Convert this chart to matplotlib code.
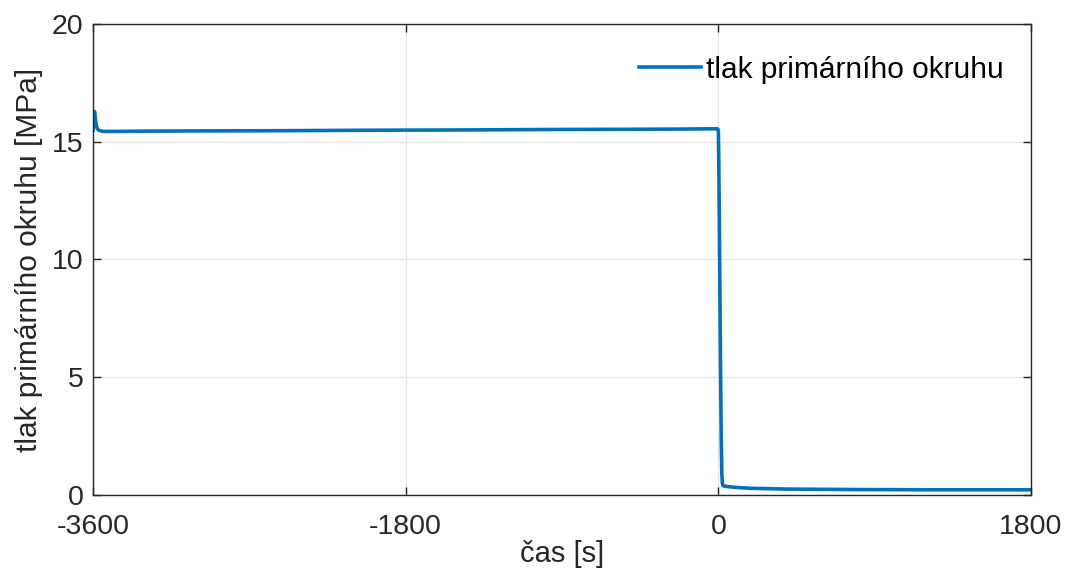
import matplotlib
matplotlib.use("Agg")
import matplotlib.pyplot as plt

# Primary circuit pressure over time (s relative to event), MPa
time_s = [-3600, -3597, -3594, -3591, -3588, -3584, -3578, -3570, -3555, -3540, -3500,
          -3300, -3000, -2500, -2000, -1500, -1000, -500, -200, -50, -5,
          0, 2, 5, 9, 13, 17, 20, 23, 26, 30,
          50, 100, 200, 400, 800, 1200, 1800]
pressure_mpa = [15.5, 15.8, 16.1, 16.28, 16.1, 15.8, 15.6, 15.5, 15.46, 15.44, 15.44,
                15.45, 15.46, 15.47, 15.49, 15.50, 15.52, 15.53, 15.54, 15.55, 15.55,
                15.50, 14.5, 12.0, 8.5, 5.0, 2.2, 0.9, 0.50, 0.40, 0.38,
                0.36, 0.32, 0.28, 0.25, 0.23, 0.22, 0.22]

x_ticks = [-3600, -1800, 0, 1800]
y_ticks = [0, 5, 10, 15, 20]
series_label = "tlak primárního okruhu"
x_label = "čas [s]"
y_label = "tlak primárního okruhu [MPa]"

text_color = "#262626"
plt.rcParams["font.family"] = ["Liberation Sans", "DejaVu Sans"]

fig = plt.figure(figsize=(10.74, 5.83), dpi=100)
ax = fig.add_axes([0.0866, 0.151, 0.8734, 0.8078])

ax.plot(time_s, pressure_mpa, color="#0072BD", linewidth=2.6, label=series_label)

ax.set_xlim(-3600, 1800)
ax.set_ylim(0, 20)
ax.set_xticks(x_ticks)
ax.set_yticks(y_ticks)
ax.set_xticklabels([str(v) for v in x_ticks])
ax.grid(True, color="#e6e6e6", linewidth=1.0)
ax.set_axisbelow(True)

for side in ax.spines.values():
    side.set_color(text_color)
    side.set_linewidth(1.0)
ax.tick_params(direction="in", length=6, width=1.0, colors=text_color,
               labelsize=20.5, top=True, right=True)
ax.tick_params(axis="x", pad=14)
ax.tick_params(axis="y", pad=7)

ax.set_xlabel(x_label, fontsize=21, color=text_color, labelpad=0)
ax.set_ylabel(y_label, fontsize=21.5, color=text_color, labelpad=6)

leg = ax.legend(loc="upper right", frameon=False, fontsize=21.5,
                handlelength=2.1, handletextpad=0.17,
                bbox_to_anchor=(1.0, 0.99))
for t in leg.get_texts():
    t.set_color("black")

fig.savefig("out.png", dpi=100)
